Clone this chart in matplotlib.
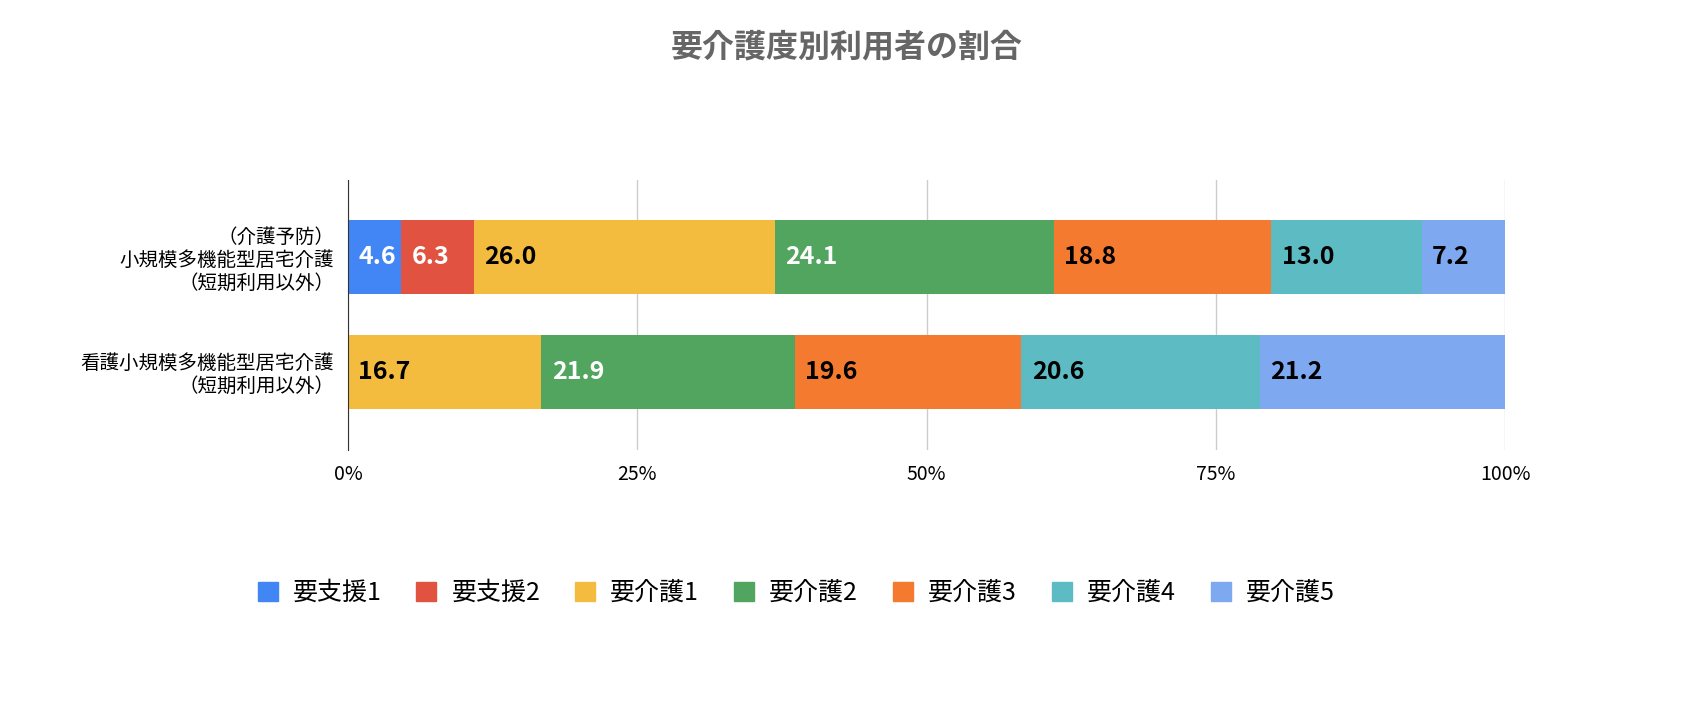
import matplotlib
matplotlib.use("Agg")
import matplotlib.pyplot as plt
from matplotlib.patches import Patch

plt.rcParams["font.family"] = ["Noto Sans CJK JP", "DejaVu Sans"]

categories = ["（介護予防）\n小規模多機能型居宅介護\n（短期利用以外）", "看護小規模多機能型居宅介護\n（短期利用以外）"]
series = ["要支援1", "要支援2", "要介護1", "要介護2", "要介護3", "要介護4", "要介護5"]
values = [
    [4.6, 0.0],
    [6.3, 0.0],
    [26.0, 16.7],
    [24.1, 21.9],
    [18.8, 19.6],
    [13.0, 20.6],
    [7.2, 21.2],
]
colors = ["#4285F4", "#E15241", "#F4BC3F", "#52A55F", "#F47A30", "#5DBBC4", "#7EA8F0"]
text_colors = ["white", "white", "black", "white", "black", "black", "black"]

fig = plt.figure(figsize=(16.94, 7.02), dpi=100)
ax = fig.add_axes([348/1694, 1-450/702, (1505-348)/1694, 270/702])
ypos = [0, 1]
left = [0.0, 0.0]
for s, vals, c, tc in zip(series, values, colors, text_colors):
    ax.barh(ypos, vals, left=left, height=0.64, color=c, label=s)
    for i, v in enumerate(vals):
        if v > 0:
            ax.text(left[i] + 0.9, ypos[i], f"{v:.1f}", va="center", ha="left",
                    color=tc, fontsize=18, fontweight="bold")
    left = [l + v for l, v in zip(left, vals)]

ax.set_xlim(0, 100)
ax.set_ylim(1.68, -0.67)
ax.set_yticks(ypos)
ax.set_yticklabels(categories, fontsize=14, ha="right", multialignment="right", linespacing=1.1)
ax.set_xticks([0, 25, 50, 75, 100])
ax.set_xticklabels(["0%", "25%", "50%", "75%", "100%"], fontsize=14)
ax.tick_params(length=0, pad=10)
ax.grid(axis="x", color="#cccccc", linewidth=1)
ax.set_axisbelow(True)
for sp in ["top", "right", "bottom"]:
    ax.spines[sp].set_visible(False)
ax.spines["left"].set_color("#333333")

fig.text(0.5, 1-47/702, "要介護度別利用者の割合", ha="center", va="center",
         fontsize=23, fontweight="bold", color="#666666")
handles = [Patch(color=c, label=s) for s, c in zip(series, colors)]
fig.legend(handles=handles, loc="center", bbox_to_anchor=(0.47, 1-593/702), ncol=7,
           frameon=False, fontsize=18, handlelength=0.8, handleheight=0.8,
           columnspacing=1.4, handletextpad=0.6)
fig.savefig("out.png", dpi=100)
